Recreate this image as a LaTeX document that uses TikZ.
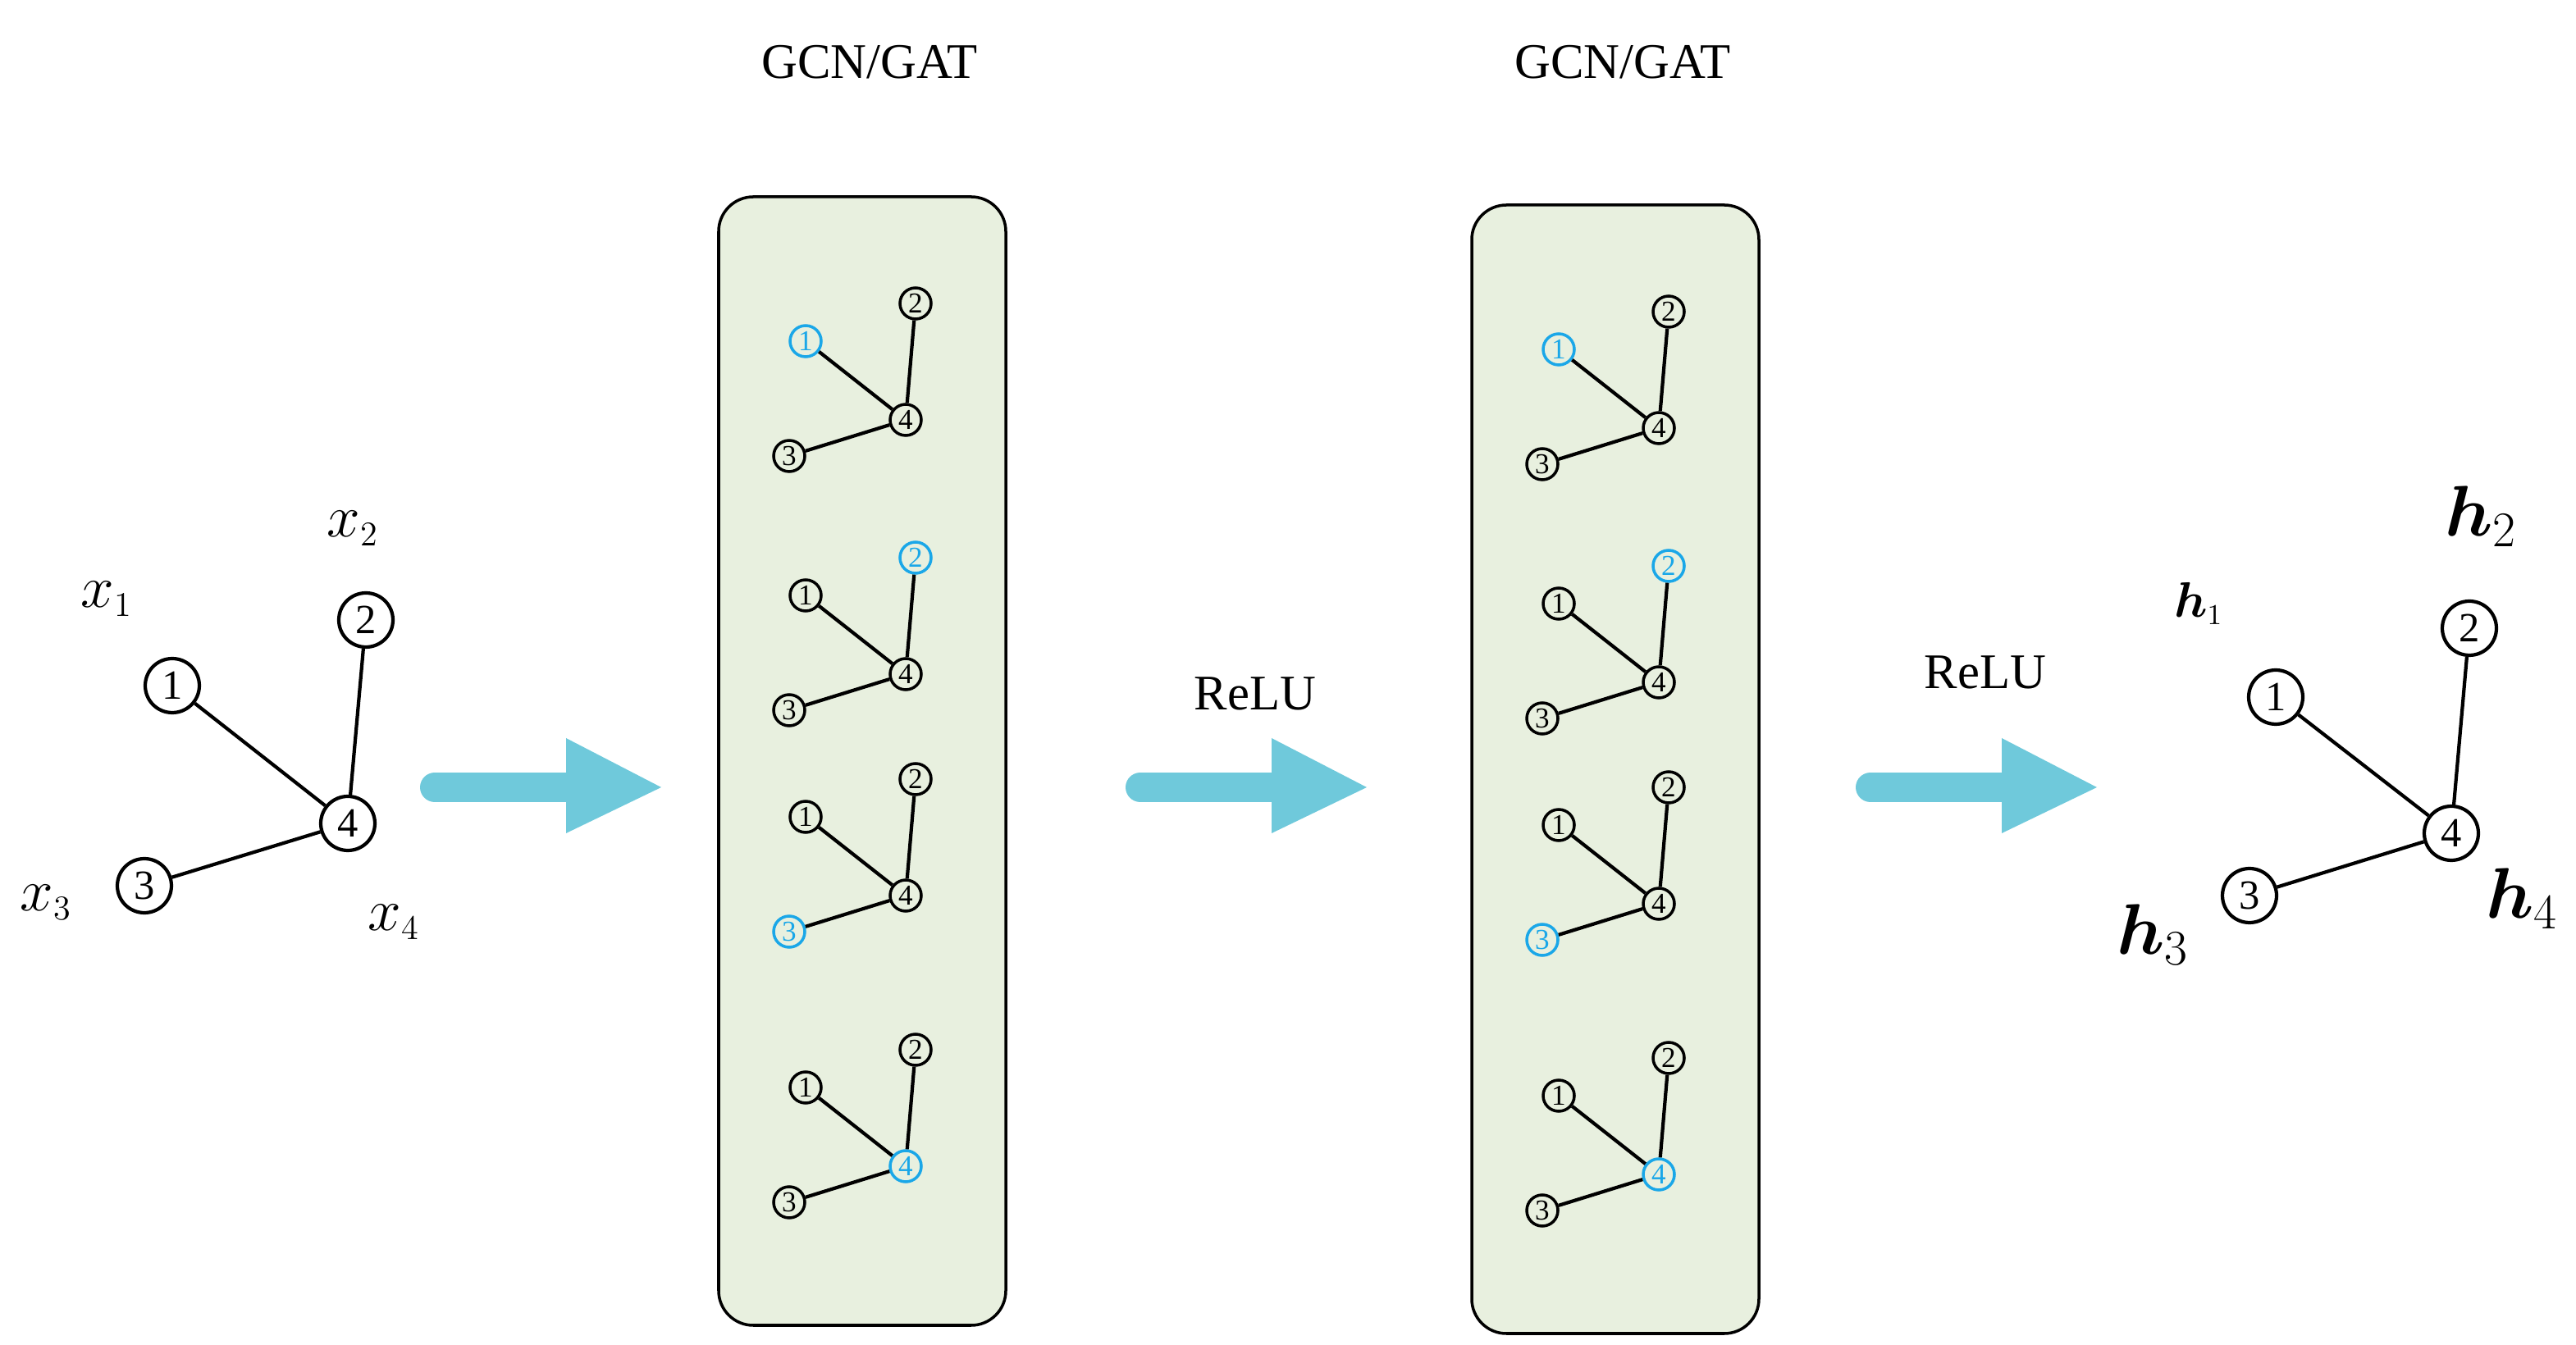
\documentclass[tikz,border=0pt]{standalone}
\usepackage{amsmath}
\usepackage{bm}
\usepackage{fontspec}
\setmainfont{Liberation Serif}
\definecolor{arrowblue}{HTML}{6FC9DB}
\definecolor{boxgreen}{HTML}{E8F0DF}
\definecolor{hlblue}{HTML}{1AA7E8}
\begin{document}
\begin{tikzpicture}[x=0.02cm,y=-0.02cm]
	\tikzstyle{big}=[circle,draw,line width=1.2pt,minimum size=0.66cm,inner sep=0pt,font=\Large]
	\tikzstyle{small}=[circle,draw,line width=1pt,minimum size=0.38cm,inner sep=0pt,font=\normalsize]
	\tikzstyle{hl}=[small,draw=hlblue,text=hlblue]
	\tikzstyle{edge}=[line width=1.2pt]
	\tikzstyle{fat}=[draw=none,fill=arrowblue]
	\useasboundingbox (0,0) rectangle (1570,820);

	% input graph
	\node [big] (a1) at (105,418) {1};
	\node [big] (a2) at (223,378) {2};
	\node [big] (a3) at (88,540) {3};
	\node [big] (a4) at (212,502) {4};
	\draw [edge] (a1) -- (a4) (a2) -- (a4) (a3) -- (a4);
	\node [font=\huge] (lx1) at (65,365) {$x_{\scriptscriptstyle 1}$};
	\node [font=\huge] (lx2) at (215,322) {$x_{\scriptscriptstyle 2}$};
	\node [font=\huge] (lx3) at (28,550) {$x_{\scriptscriptstyle 3}$};
	\node [font=\huge] (lx4) at (240,562) {$x_{\scriptscriptstyle 4}$};

	% layers
	\foreach \bx/\by/\k in {0/0/a, 459/5/b} {
		\draw [fill=boxgreen, line width=1pt, rounded corners=12] (438+\bx,120+\by) rectangle (613+\bx,808+\by);
		\node [font=\LARGE] (t\k) at (530+\bx,38) {GCN/GAT};
		\foreach \dy [count=\i] in {0,155,290,455} {
			\foreach \j/\px/\py in {1/491/208, 2/558/185, 3/481/278, 4/552/256} {
				\ifnum\i=\j
					\node [hl] (\k\i n\j) at (\px+\bx,\py+\dy+\by) {\j};
				\else
					\node [small] (\k\i n\j) at (\px+\bx,\py+\dy+\by) {\j};
				\fi
			}
			\draw [edge] (\k\i n1) -- (\k\i n4) (\k\i n2) -- (\k\i n4) (\k\i n3) -- (\k\i n4);
		}
	}

	% block arrows
	\foreach \sx in {265, 695, 1140} {
		\draw [arrowblue, line width=0.36cm, line cap=round] (\sx,480) -- (\sx+82,480);
		\fill [fat] (\sx+80,450) -- (\sx+138,480) -- (\sx+80,508) -- cycle;
	}
	\node [font=\LARGE] (r1) at (765,423) {ReLU};
	\node [font=\LARGE] (r2) at (1210,410) {ReLU};

	% output graph
	\node [big] (c1) at (1387,425) {1};
	\node [big] (c2) at (1505,383) {2};
	\node [big] (c3) at (1371,546) {3};
	\node [big] (c4) at (1494,508) {4};
	\draw [edge] (c1) -- (c4) (c2) -- (c4) (c3) -- (c4);
	\node [font=\LARGE] (lh1) at (1340,368) {$\bm{h}_{\scriptscriptstyle 1}$};
	\node [font=\Huge] (lh2) at (1512,315) {$\bm{h}_{\scriptscriptstyle 2}$};
	\node [font=\Huge] (lh3) at (1312,570) {$\bm{h}_{\scriptscriptstyle 3}$};
	\node [font=\Huge] (lh4) at (1537,548) {$\bm{h}_{\scriptscriptstyle 4}$};
\end{tikzpicture}
\end{document}
